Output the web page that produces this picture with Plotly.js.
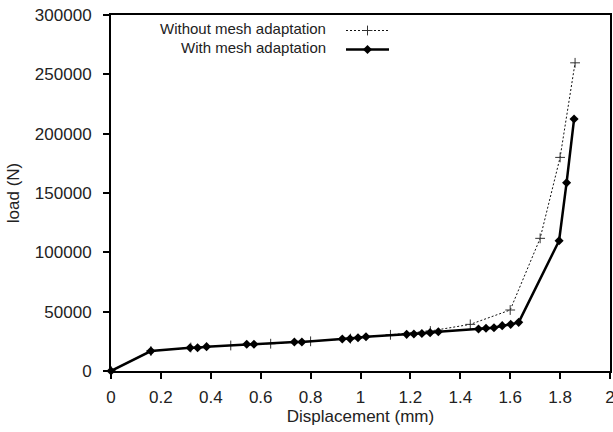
<!DOCTYPE html>
<html>
<head>
<meta charset="utf-8">
<script src="https://cdn.plot.ly/plotly-3.0.1.min.js"></script>
<style>
html,body{margin:0;padding:0;background:#fff;}
#chart{width:613px;height:432px;}
</style>
</head>
<body>
<div id="chart"></div>
<script>
// Without mesh adaptation
const withoutX = [0, 0.16, 0.32, 0.48, 0.64, 0.80, 0.96, 1.12, 1.28, 1.44, 1.60, 1.72, 1.80, 1.86];
const withoutY = [0, 16800, 19800, 21500, 23000, 25000, 27300, 30500, 33700, 39300, 51400, 111800, 180000, 259700];
// With mesh adaptation
const withX = [0, 0.16, 0.317, 0.347, 0.383, 0.544, 0.573, 0.735, 0.765, 0.927, 0.958, 0.99, 1.022,
  1.185, 1.214, 1.246, 1.279, 1.312, 1.473, 1.503, 1.535, 1.568, 1.602, 1.634, 1.796, 1.826, 1.856];
const withY = [0, 16800, 19600, 19600, 20500, 22500, 22500, 24400, 24400, 27000, 27200, 28000, 28900,
  30900, 31200, 31600, 32300, 33100, 35400, 36000, 36500, 38200, 39300, 41000, 109800, 158700, 212300];
const seriesNames = ['Without mesh adaptation', 'With mesh adaptation'];
const xTicks = [0, 0.2, 0.4, 0.6, 0.8, 1, 1.2, 1.4, 1.6, 1.8, 2];
const xTickText = ['0', '0.2', '0.4', '0.6', '0.8', '1', '1.2', '1.4', '1.6', '1.8', '2'];
const yTicks = [0, 50000, 100000, 150000, 200000, 250000, 300000];
const xTitle = 'Displacement (mm)';
const yTitle = 'load (N)';

const font = 'Liberation Sans, Arial, sans-serif';
const txt = '#222';

const traces = [
  {
    x: withoutX, y: withoutY, type: 'scatter', mode: 'lines+markers', name: ' ',
    line: {color: '#111', width: 1, dash: '2px,2px'},
    marker: {symbol: 'cross-thin', size: 7, color: '#333', line: {color: '#333', width: 1}},
    cliponaxis: false
  },
  {
    x: withX, y: withY, type: 'scatter', mode: 'lines+markers', name: ' ',
    line: {color: '#000', width: 2.5},
    marker: {symbol: 'diamond', size: 7, color: '#000'},
    cliponaxis: false
  }
];

const W = 613, H = 432, ml = 111, mr = 3, mt = 15, mb = 61;
const pw = W - ml - mr, ph = H - mt - mb;
function px(x){ return (x - ml) / pw; }
function py(y){ return (H - mb - y) / ph; }

const layout = {
  width: W, height: H,
  margin: {l: ml, r: mr, t: mt, b: mb, pad: 0},
  paper_bgcolor: '#fff', plot_bgcolor: '#fff',
  font: {family: font, color: txt, size: 17},
  showlegend: true,
  legend: {
    x: px(341), y: py(16), xanchor: 'left', yanchor: 'top',
    bgcolor: 'rgba(0,0,0,0)', font: {size: 12, family: font, color: txt},
    tracegroupgap: 0, itemwidth: 43
  },
  xaxis: {
    range: [0, 2], tickmode: 'array', tickvals: xTicks, ticktext: xTickText,
    showgrid: false, zeroline: false,
    showline: true, linecolor: '#000', linewidth: 2, mirror: true,
    ticks: 'outside', ticklen: 6, tickwidth: 2, tickcolor: '#000',
    ticklabelstandoff: 4, ticklabeloverflow: 'allow',
    tickfont: {size: 17, family: font, color: txt},
    title: {text: xTitle, font: {size: 17, family: font, color: txt}, standoff: 4}
  },
  yaxis: {
    range: [0, 300000], tickmode: 'array', tickvals: yTicks,
    tickformat: 'd',
    showgrid: false, zeroline: false,
    showline: true, linecolor: '#000', linewidth: 2, mirror: true,
    ticks: 'outside', ticklen: 6, tickwidth: 2, tickcolor: '#000',
    ticklabelstandoff: 8,
    tickfont: {size: 17, family: font, color: txt},
    title: {text: yTitle, font: {size: 17, family: font, color: txt}, standoff: 11}
  },
  annotations: [
    {text: seriesNames[0], xref: 'paper', yref: 'paper', x: px(328), y: py(28),
     xanchor: 'right', yanchor: 'middle', showarrow: false, font: {size: 15, family: font, color: txt}},
    {text: seriesNames[1], xref: 'paper', yref: 'paper', x: px(328), y: py(48),
     xanchor: 'right', yanchor: 'middle', showarrow: false, font: {size: 15, family: font, color: txt}}
  ]
};

Plotly.newPlot('chart', traces, layout, {displayModeBar: false, staticPlot: true});
</script>
</body>
</html>
